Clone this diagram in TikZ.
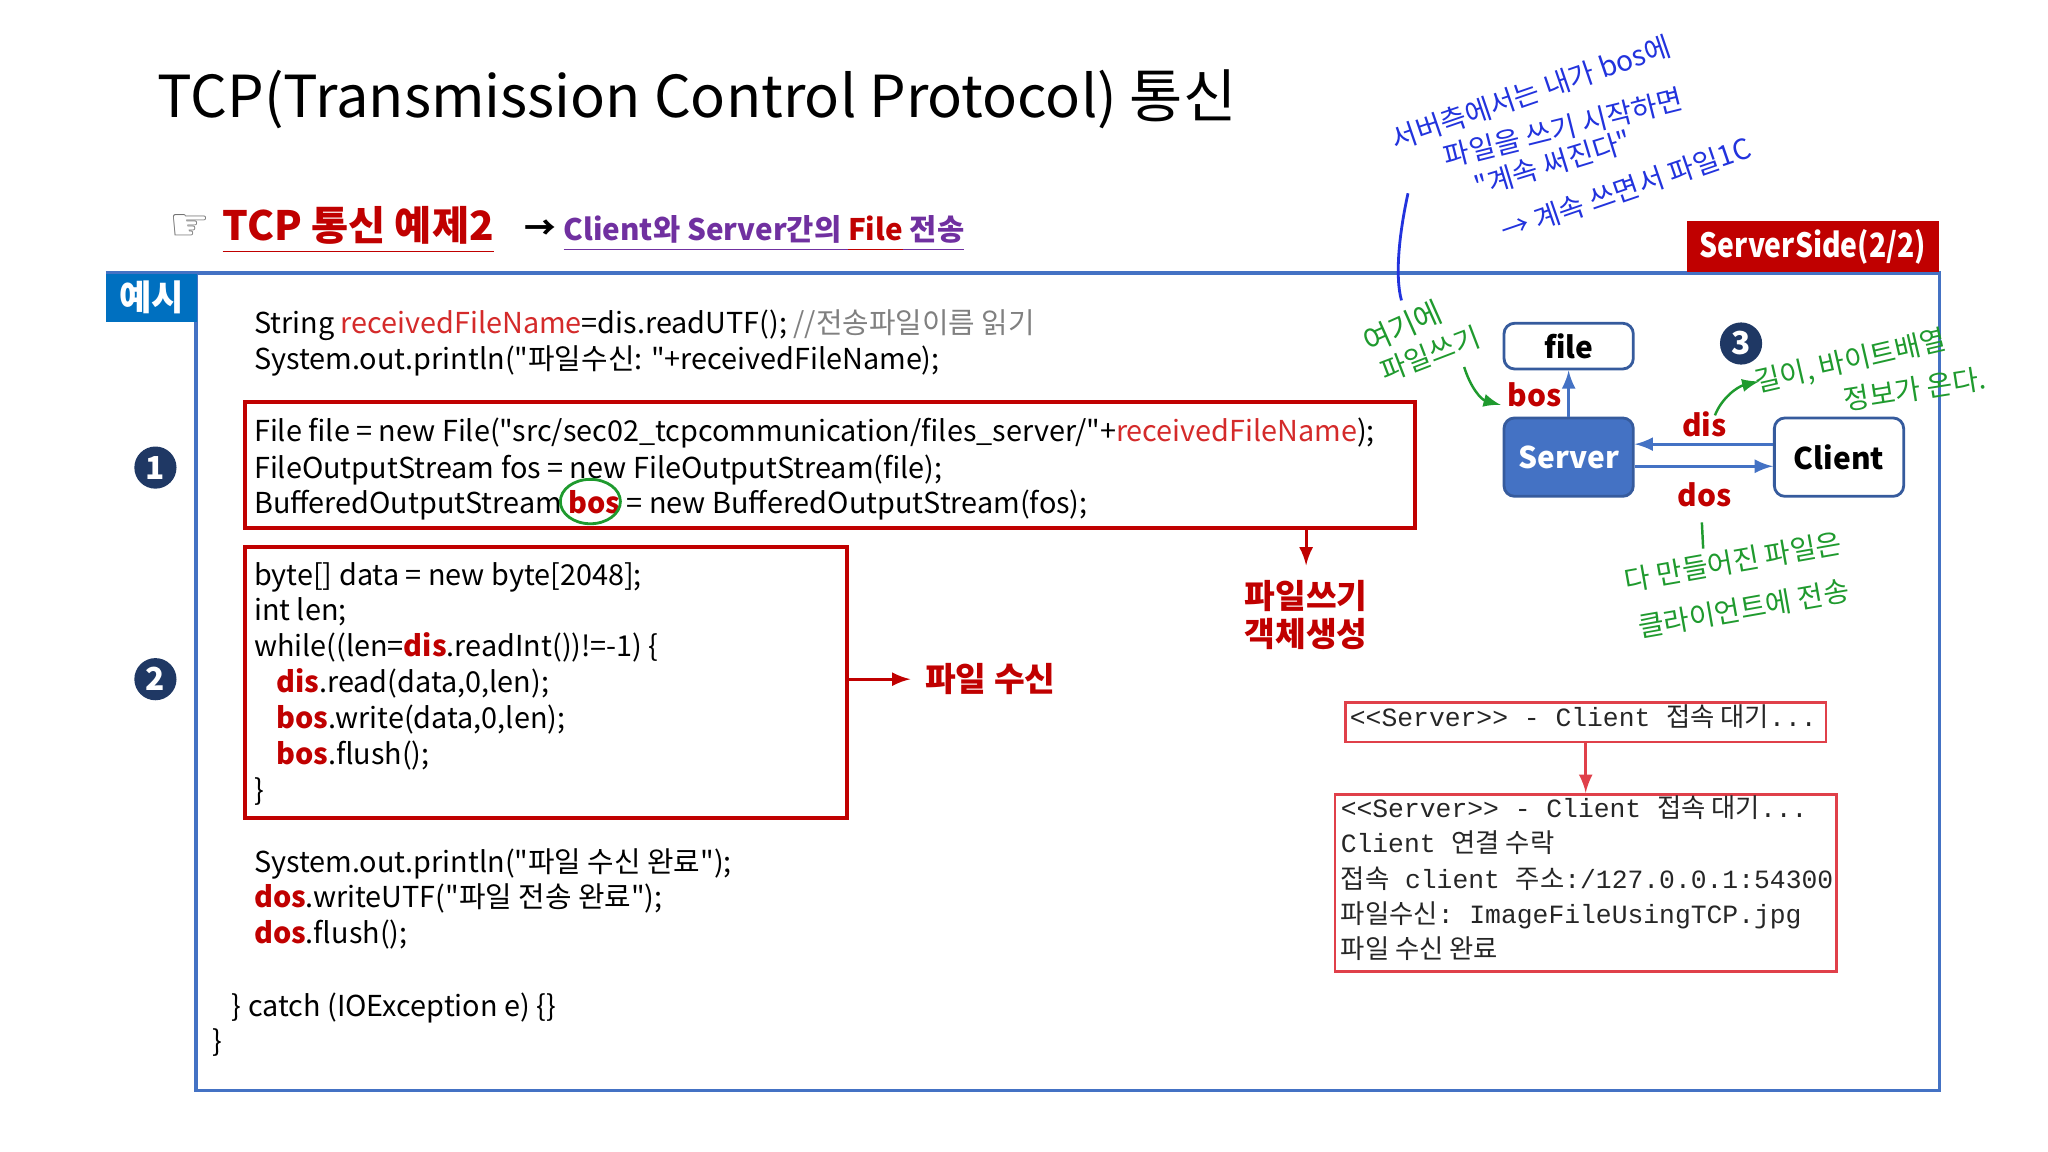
\documentclass[tikz,border=0pt]{standalone}
\usepackage{fontspec}
\setmainfont{Noto Sans CJK KR}[Ligatures=TeXOff]
\setmonofont{Liberation Mono}
\newfontfamily\cjk{Noto Sans CJK KR}[Ligatures=TeXOff]
\newfontfamily\symfont{DejaVu Sans}
\usetikzlibrary{positioning}

\definecolor{frameblue}{HTML}{4472C4}
\definecolor{exblue}{HTML}{0070C0}
\definecolor{darkred}{HTML}{C00000}
\definecolor{namered}{HTML}{D42A2A}
\definecolor{conred}{HTML}{E0404A}
\definecolor{navy}{HTML}{1F3864}
\definecolor{purp}{HTML}{7030A0}
\definecolor{penblue}{HTML}{2233DD}
\definecolor{pengreen}{HTML}{1F9A2E}

\newcommand{\unitpx}{0.013061cm}
\newcommand{\kw}[1]{\textcolor{darkred}{\textbf{#1}}}
\newcommand{\rfn}{\textcolor{namered}{receivedFileName}}
\newcommand{\ulstrut}{\rule[-0.15em]{0pt}{0.15em}}

\begin{document}
\begin{tikzpicture}[x=0.013061cm, y=-0.013061cm, >=latex,
  code/.style={anchor=base west, inner sep=0pt, font=\fontsize{8.2}{10}\selectfont},
  con/.style={anchor=base west, inner sep=0pt, text=black!85, font=\fontsize{7.5}{9}\ttfamily},
  numdot/.style={circle, fill=navy, text=white, inner sep=0pt, minimum size=12pt, font=\bfseries\fontsize{9}{9}\selectfont},
  codebox/.style={draw=darkred, line width=1.1pt, anchor=north west, inner sep=0pt},
  conbox/.style={draw=conred, line width=0.8pt, anchor=north west, inner sep=0pt},
  redarrow/.style={->, draw=darkred, line width=0.8pt},
  tag/.style={text=darkred, font=\bfseries\fontsize{9.5}{11}\selectfont, align=center, inner sep=4pt},
  netbox/.style={rectangle, rounded corners=3pt, draw=frameblue!80!black, line width=0.8pt, inner sep=1pt,
    minimum width=99*\unitpx, font=\bfseries\fontsize{8.5}{9}\selectfont},
  netarrow/.style={->, draw=frameblue, line width=0.8pt},
  netlabel/.style={text=darkred, font=\bfseries\fontsize{8.5}{9}\selectfont, inner sep=0pt},
  pen/.style={text=penblue, font=\fontsize{8}{9}\selectfont, rotate=17, inner sep=0pt},
  note/.style={text=pengreen, font=\fontsize{8}{9}\selectfont, rotate=13, inner sep=0pt}]
\useasboundingbox (0,0) rectangle (1568,882);

% title and subtitle
\node[anchor=west, inner sep=0pt] (title) at (120,76) {\resizebox{307pt}{!}{TCP(Transmission Control Protocol) 통신}};
\node[anchor=west, inner sep=0pt, text=black!55, font=\fontsize{13}{13}\symfont] (hand) at (129,174) {☞};
\node[anchor=base west, inner sep=0pt, text=darkred, font=\bfseries\fontsize{11.5}{12}\selectfont] (example) at (170,184)
  {\underline{\ulstrut TCP 통신 예제2}};
\node[anchor=west, inner sep=0pt, font=\bfseries\fontsize{9}{10}\selectfont] (goes) at (401,176) {→};
\node[anchor=base west, inner sep=0pt, font=\bfseries\fontsize{9}{10}\selectfont] (topic) at (431,184)
  {\resizebox{114pt}{!}{\textcolor{purp}{\underline{\ulstrut Client와 Server간의 }}\textcolor{darkred}{\underline{\ulstrut File}}\textcolor{purp}{\underline{\ulstrut\ 전송}}}};

% frame
\draw[frameblue, line width=1pt] (81,209) -- (1485,209) -- (1485,835) -- (150,835) -- (150,209);
\node[fill=exblue, text=white, minimum width=69*\unitpx, minimum height=37*\unitpx, anchor=north west, inner sep=0pt,
  font=\bfseries\fontsize{10}{10}\selectfont] (ex) at (81,209) {예시};
\node[fill=darkred, text=white, minimum width=193*\unitpx, minimum height=39*\unitpx, anchor=south east, inner sep=0pt,
  font=\bfseries\fontsize{9.5}{10}\selectfont] (side) at (1485,209) {\scalebox{0.85}[1]{ServerSide(2/2)}};

% code
\node[code] (l1) at (194,255) {String \rfn=dis.readUTF(); \textcolor{black!50}{//전송파일이름 읽기}};
\node[code] (l2) at (194,283) {System.out.println("파일수신: "+receivedFileName);};

\node[codebox, minimum width=896*\unitpx, minimum height=97*\unitpx] (box1) at (186,306) {};
\node[code] (l3) at (194,338) {File file = new File("src/sec02\_tcpcommunication/files\_server/"+\rfn);};
\node[code] (l4) at (194,366) {FileOutputStream fos = new FileOutputStream(file);};
\node[code] (l5) at (194,393) {BufferedOutputStream \kw{bos} = new BufferedOutputStream(fos);};
\draw[pengreen, line width=0.8pt] (452,384) ellipse [x radius=23, y radius=17];

\node[codebox, minimum width=461*\unitpx, minimum height=208*\unitpx] (box2) at (186,417) {};
\node[code] (l6) at (194,448) {byte[] data = new byte[2048];};
\node[code] (l7) at (194,475) {int len;};
\node[code] (l8) at (194,503) {while((len=\kw{dis}.readInt())!=-1) \{};
\node[code] (l9) at (211,530) {\kw{dis}.read(data,0,len);};
\node[code] (l10) at (211,558) {\kw{bos}.write(data,0,len);};
\node[code] (l11) at (211,585) {\kw{bos}.flush();};
\node[code] (l12) at (194,613) {\}};

\node[code] (l13) at (194,668) {System.out.println("파일 수신 완료");};
\node[code] (l14) at (194,695) {\kw{dos}.writeUTF("파일 전송 완료");};
\node[code] (l15) at (194,722) {\kw{dos}.flush();};
\node[code] (l16) at (177,778) {\} catch (IOException e) \{\}};
\node[code] (l17) at (162,805) {\}};

\node[numdot] (n1) at (119,358) {1};
\node[numdot] (n2) at (119,520) {2};

% notes on the code
\node[tag, anchor=west] (recv) at (697,520) {파일 수신};
\draw[redarrow] (recv.west -| box2.east) -- (recv.west);
\node[tag] (mkobj) at (1000,471) {파일쓰기\\객체생성};
\draw[redarrow] (mkobj.north |- box1.south) -- (mkobj.north);

% server and client
\node[netbox, fill=white, minimum height=35*\unitpx] (file) at (1201,265) {file};
\node[netbox, fill=frameblue, text=white, minimum height=60*\unitpx] (server) at (1201,350) {Server};
\node[netbox, fill=white, minimum height=60*\unitpx] (client) at (1408,350) {Client};
\draw[netarrow] (server) -- (file);
\draw[netarrow] ([yshift=3.7pt]client.west) -- ([yshift=3.7pt]server.east);
\draw[netarrow] ([yshift=-2.6pt]server.east) -- ([yshift=-2.6pt]client.west);
\node[netlabel] (bosl) at (1175,302) {bos};
\node[netlabel] (disl) at (1305,325) {dis};
\node[netlabel] (dosl) at (1305,379) {dos};
\node[numdot] (n3) at (1333,263) {3};

% console
\node[conbox, minimum width=368*\unitpx, minimum height=30*\unitpx] (con1) at (1029,537) {};
\node[con] (c0) at (1033,556) {<<Server>> - Client {\cjk 접속 대기}...};
\node[conbox, minimum width=384*\unitpx, minimum height=136*\unitpx] (con2) at (1021,607) {};
\draw[redarrow, draw=conred] (con1.south) -- (con1.south |- con2.north);
\node[con] (c1) at (1026,626) {<<Server>> - Client {\cjk 접속 대기}...};
\node[con] (c2) at (1026,653) {Client {\cjk 연결 수락}};
\node[con] (c3) at (1026,680) {{\cjk 접속} client {\cjk 주소}:/127.0.0.1:54300};
\node[con] (c4) at (1026,707) {{\cjk 파일수신}: ImageFileUsingTCP.jpg};
\node[con] (c5) at (1026,734) {{\cjk 파일 수신 완료}};

% pen notes
\node[pen, rotate=2] (h1) at (1172,71) {서버측에서는 내가 bos에};
\node[pen, rotate=-3] (h2) at (1197,98) {파일을 쓰기 시작하면};
\node[pen] (h3) at (1189,125) {"계속 써진다"};
\node[pen, rotate=2] (h4) at (1245,145) {→ 계속 쓰면서 파일1C};
\draw[penblue, line width=0.8pt] (1078,148) .. controls (1071,180) and (1068,212) .. (1073,230);

\node[note, rotate=11, font=\fontsize{8.5}{9}\selectfont] (g1) at (1074,250) {여기에};
\node[note, rotate=8] (g2) at (1095,271) {파일쓰기};
\draw[pengreen, ->, line width=0.7pt] (1121,281) .. controls (1126,297) and (1134,306) .. (1149,310);
\node[note] (g3) at (1417,277) {길이, 바이트배열};
\node[note, rotate=-4] (g4) at (1466,298) {정보가 온다.};
\draw[pengreen, ->, line width=0.7pt] (1313,318) .. controls (1318,305) and (1330,296) .. (1347,292);
\node[note, rotate=-3] (g5) at (1327,430) {다 만들어진 파일은};
\node[note, rotate=-3] (g6) at (1335,466) {클라이언트에 전송};
\draw[pengreen, line width=0.7pt] (1303,400) -- (1304,420);
\end{tikzpicture}
\end{document}
